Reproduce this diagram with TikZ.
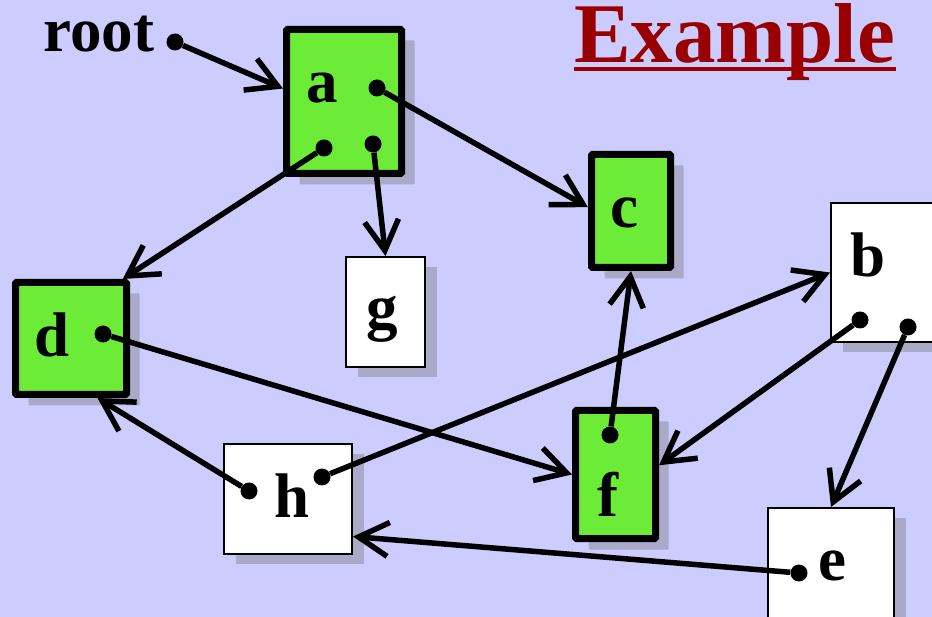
\documentclass[tikz,border=0pt]{standalone}
\usepackage{fontspec}
\setmainfont{Liberation Serif}
\usetikzlibrary{arrows.meta,shadows}
\definecolor{bgblue}{RGB}{204,204,255}
\definecolor{boxgreen}{RGB}{108,235,55}
\definecolor{shadowgray}{RGB}{170,170,200}
\definecolor{titlered}{RGB}{153,0,0}
\begin{document}
\begin{tikzpicture}
      [x=1pt,y=-1pt,
       gbox/.style={draw, fill=boxgreen, line width=7pt, inner sep=0pt, rounded corners=1pt,
         drop shadow={shadow xshift=13pt, shadow yshift=-11pt, fill=shadowgray, opacity=1}},
       wbox/.style={draw, fill=white, line width=2pt, inner sep=0pt,
         drop shadow={shadow xshift=12pt, shadow yshift=-10pt, fill=shadowgray, opacity=1}},
       lbl/.style={inner sep=0pt, anchor=base, font=\fontsize{63}{70}\selectfont\bfseries},
       ptrdot/.style={circle, fill=black, inner sep=0pt, minimum size=17pt},
       ptr/.style={line width=5.5pt, -{Straight Barb[length=30pt, width=34pt, sharp].}}]
    \path[use as bounding box, fill=bgblue] (0,0) rectangle (932,617);

    % title
    \node[font=\fontsize{85}{95}\selectfont\bfseries, text=titlered, inner sep=0pt,
          text height=56pt, anchor=base west] (title) at (574,63) {Example};
    \draw[titlered, line width=3.5pt] ([yshift=-6pt]title.base west) -- ([yshift=-6pt]title.base east);

    % boxes
    \node[gbox, minimum width=115pt, minimum height=144pt] (a) at (344,101.5) {};
    \node[gbox, minimum width=79pt, minimum height=113pt] (c) at (631,211) {};
    \node[gbox, minimum width=111pt, minimum height=112pt] (d) at (71,338.5) {};
    \node[gbox, minimum width=80pt, minimum height=128pt] (f) at (615.5,474.5) {};
    \node[wbox, minimum width=79pt, minimum height=110pt] (g) at (385.5,312) {};
    \node[wbox, minimum width=128pt, minimum height=110pt] (h) at (288,499) {};
    \node[wbox, minimum width=120pt, minimum height=139pt] (b) at (891,272.5) {};
    \node[wbox, minimum width=126pt, minimum height=138pt] (e) at (831,577) {};

    % labels
    \node[lbl, anchor=base west] (root) at (43,52) {root};
    \node[lbl] (a-l) at (322,103) {a};
    \node[lbl] (c-l) at (624.5,228) {c};
    \node[lbl] (d-l) at (52,357) {d};
    \node[lbl] (f-l) at (607.5,516) {f};
    \node[lbl] (g-l) at (382,329) {g};
    \node[lbl] (h-l) at (292,517) {h};
    \node[lbl] (b-l) at (868,277) {b};
    \node[lbl] (e-l) at (832.5,580) {e};

    % pointer dots
    \node[ptrdot] (rdot) at (175,42) {};
    \node[ptrdot] (a1) at (377,88) {};
    \node[ptrdot] (a2) at (324,148) {};
    \node[ptrdot] (a3) at (373,144) {};
    \node[ptrdot] (d1) at (103,334) {};
    \node[ptrdot] (h1) at (249,491) {};
    \node[ptrdot] (h2) at (322,477) {};
    \node[ptrdot] (f1) at (610,435) {};
    \node[ptrdot] (b1) at (860,320) {};
    \node[ptrdot] (b2) at (908,327) {};
    \node[ptrdot] (e1) at (799,573) {};

    \foreach \from/\to in {rdot/a.168, a1/c.175, a2/d.49, a3/g.north, d1/f.west,
                           h1/d.-66, h2/b.west, f1/c.south, b1/f.12, b2/e.north, e1/h.-30}
      \draw[ptr] (\from) -- (\to);
\end{tikzpicture}
\end{document}
